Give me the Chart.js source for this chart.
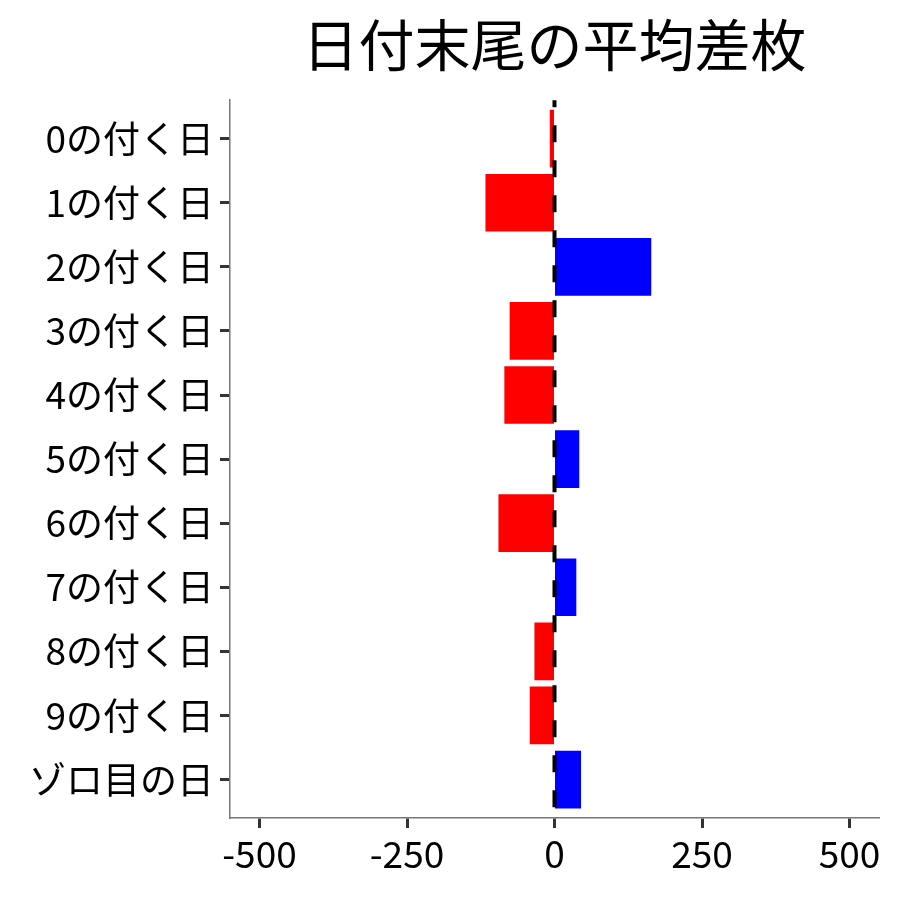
<!DOCTYPE html>
<html>
<head>
<meta charset="utf-8">
<script src="https://cdn.jsdelivr.net/npm/chart.js@4"></script>
<style>
  html, body { margin: 0; padding: 0; background: #fff; }
  #wrap { width: 900px; height: 900px; }
</style>
</head>
<body>
<div id="wrap"><canvas id="diffChart"></canvas></div>
<script>
const categories = ['0の付く日', '1の付く日', '2の付く日', '3の付く日', '4の付く日', '5の付く日',
  '6の付く日', '7の付く日', '8の付く日', '9の付く日', 'ゾロ目の日'];
const avgDiff = [-8, -117, 164, -76, -85, 42, -95, 37, -34, -42, 45];
const xTicks = [-500, -250, 0, 250, 500];

const FONT = '"Noto Sans CJK JP", "Noto Sans", sans-serif';

// dashed line at zero, drawn over the bars
const zeroLine = {
  id: 'zeroLine',
  afterDatasetsDraw(chart) {
    const { ctx, chartArea, scales } = chart;
    const x = scales.x.getPixelForValue(0);
    ctx.save();
    ctx.strokeStyle = '#000';
    ctx.lineWidth = 4;
    ctx.setLineDash([17, 18]);
    ctx.lineDashOffset = 10;
    ctx.beginPath();
    ctx.moveTo(x, chartArea.top);
    ctx.lineTo(x, chartArea.bottom);
    ctx.stroke();
    ctx.restore();
  }
};

function renderChart() {
  const ctx = document.getElementById('diffChart');
  new Chart(ctx, {
    type: 'bar',
    data: {
      datasets: [{
        data: avgDiff.map((v, i) => ({ x: v, y: i })),
        backgroundColor: avgDiff.map(v => v < 0 ? '#ff0000' : '#0000ff'),
        borderWidth: 0,
        categoryPercentage: 1,
        barPercentage: 0.9
      }]
    },
    plugins: [zeroLine],
    options: {
      indexAxis: 'y',
      responsive: false,
      animation: false,
      devicePixelRatio: 1,
      layout: { padding: { left: 0, right: 21, top: 0, bottom: 0 } },
      plugins: {
        legend: { display: false },
        tooltip: { enabled: false },
        title: {
          display: true,
          text: '日付末尾の平均差枚',
          fullSize: false,
          color: '#000',
          font: { family: FONT, size: 56, weight: 'normal', lineHeight: 1.2 },
          padding: { top: 11, bottom: 22 }
        }
      },
      scales: {
        x: {
          type: 'linear',
          min: -550,
          max: 550,
          afterBuildTicks(s) { s.ticks = xTicks.map(v => ({ value: v })); },
          afterFit(s) { s.height = 82; },
          ticks: {
            color: '#000',
            padding: 4,
            font: { family: FONT, size: 37 }
          },
          grid: { drawOnChartArea: false, tickLength: 10, tickColor: '#333', tickWidth: 3 },
          border: { color: '#777', width: 1.5 }
        },
        y: {
          type: 'linear',
          offset: false,
          min: -0.6,
          max: categories.length - 0.4,
          reverse: true,
          afterBuildTicks(s) { s.ticks = categories.map((_, i) => ({ value: i })); },
          afterFit(s) { s.width = 230; },
          ticks: {
            color: '#000',
            padding: 6,
            font: { family: FONT, size: 37 },
            callback: (value) => categories[value]
          },
          grid: { offset: false, drawOnChartArea: false, tickLength: 10, tickColor: '#333', tickWidth: 3 },
          border: { color: '#777', width: 1.5 }
        }
      }
    }
  });
}

document.addEventListener('DOMContentLoaded', () => {
  const c = document.getElementById('diffChart');
  c.width = 900;
  c.height = 900;
  renderChart();
});
</script>
</body>
</html>
